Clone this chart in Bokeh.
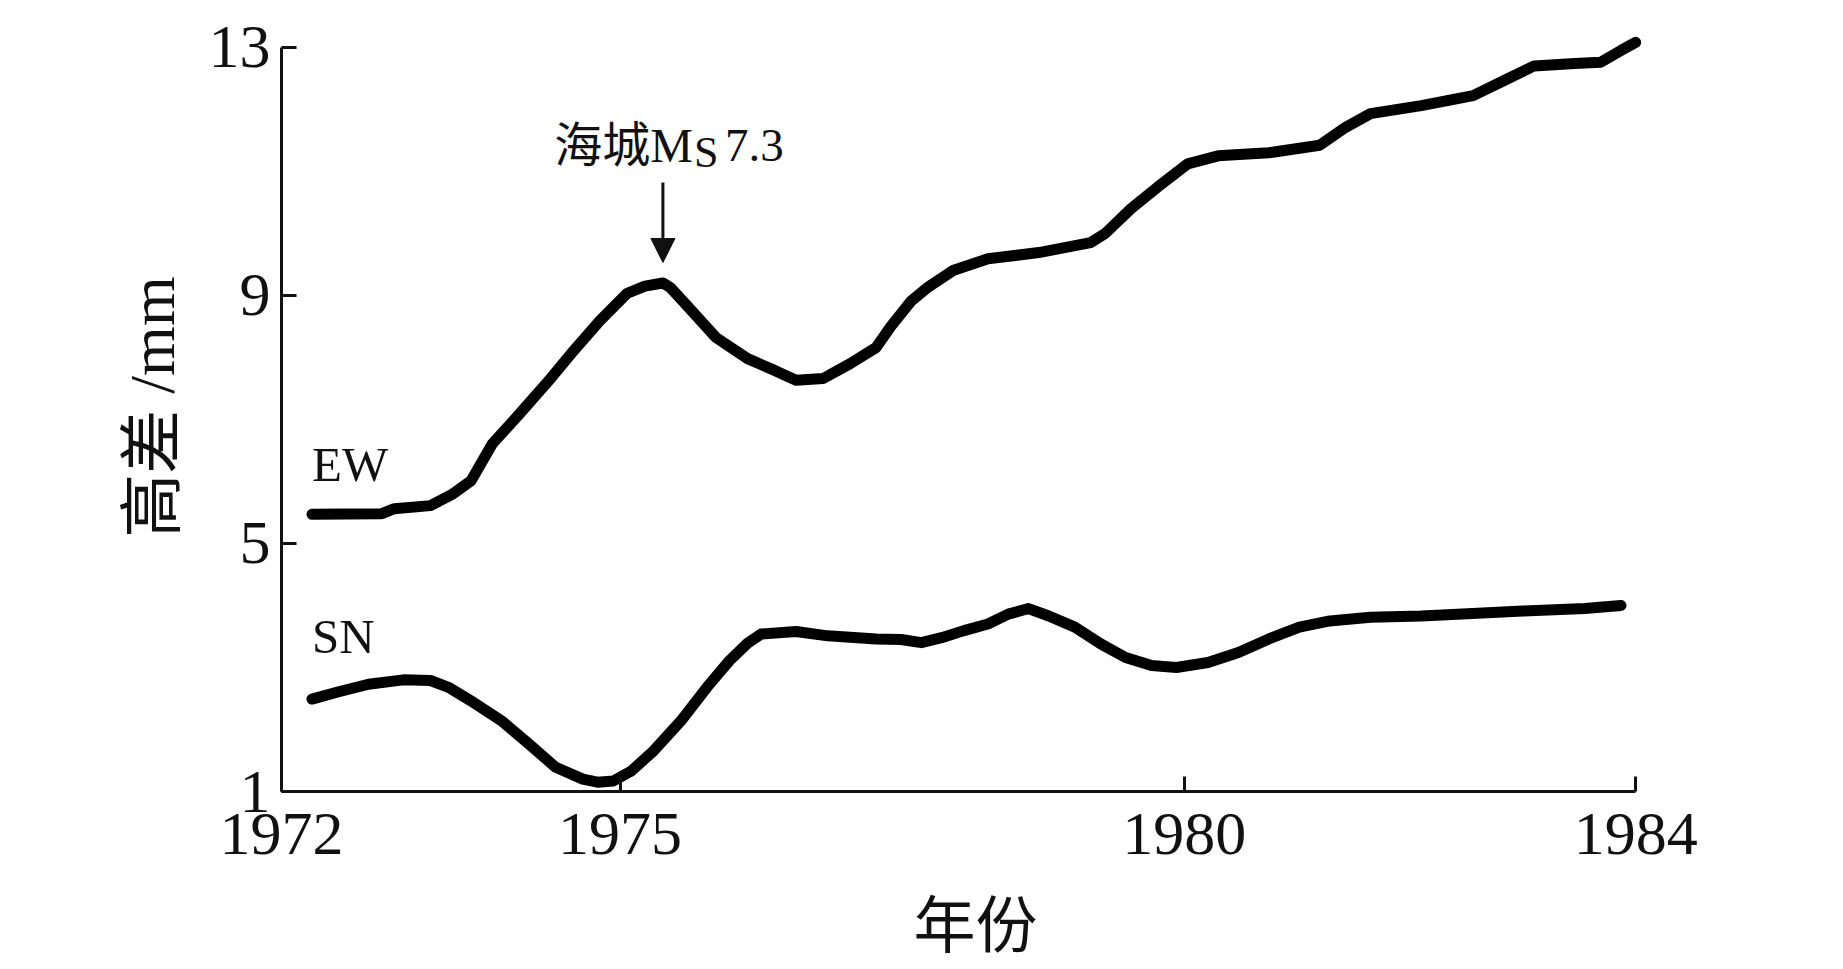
from bokeh.plotting import figure
from bokeh.models import Range1d, FixedTicker, Label, Arrow, NormalHead
from bokeh.embed import file_html
from bokeh.resources import INLINE

# ---- data ----
ew_years = [1972.27, 1972.89, 1973.00, 1973.32, 1973.52, 1973.68, 1973.87, 1974.11,
            1974.39, 1974.59, 1974.82, 1975.06, 1975.22, 1975.38, 1975.45, 1975.58,
            1975.85, 1976.13, 1976.37, 1976.56, 1976.80, 1977.04, 1977.27, 1977.40,
            1977.58, 1977.72, 1977.95, 1978.26, 1978.71, 1979.17, 1979.30, 1979.53,
            1979.76, 1980.03, 1980.30, 1980.75, 1981.20, 1981.43, 1981.65, 1982.10,
            1982.56, 1982.83, 1983.10, 1983.46, 1983.69, 1983.87, 1984.00]
ew_vals = [5.47, 5.48, 5.56, 5.61, 5.80, 6.01, 6.61, 7.09,
           7.67, 8.11, 8.59, 9.03, 9.15, 9.20, 9.12, 8.86,
           8.32, 7.98, 7.79, 7.63, 7.66, 7.90, 8.16, 8.50,
           8.91, 9.12, 9.40, 9.59, 9.69, 9.85, 10.00, 10.40,
           10.74, 11.12, 11.25, 11.30, 11.42, 11.71, 11.93, 12.06,
           12.22, 12.46, 12.70, 12.74, 12.76, 12.95, 13.08]

sn_years = [1972.27, 1972.49, 1972.77, 1973.08, 1973.32, 1973.48, 1973.68, 1973.95,
            1974.19, 1974.43, 1974.67, 1974.80, 1974.94, 1975.10, 1975.30, 1975.54,
            1975.77, 1975.97, 1976.13, 1976.25, 1976.56, 1976.84, 1977.27, 1977.49,
            1977.67, 1977.85, 1978.04, 1978.26, 1978.44, 1978.62, 1978.80, 1979.03,
            1979.26, 1979.48, 1979.71, 1979.93, 1980.21, 1980.48, 1980.75, 1981.02,
            1981.29, 1981.65, 1982.10, 1982.42, 1983.00, 1983.55, 1983.87]
sn_vals = [2.49, 2.60, 2.73, 2.80, 2.79, 2.68, 2.46, 2.14,
           1.77, 1.39, 1.20, 1.15, 1.17, 1.33, 1.66, 2.14,
           2.68, 3.11, 3.39, 3.54, 3.58, 3.51, 3.46, 3.45,
           3.40, 3.48, 3.59, 3.70, 3.86, 3.95, 3.83, 3.65,
           3.38, 3.16, 3.03, 3.00, 3.08, 3.24, 3.46, 3.65,
           3.75, 3.81, 3.83, 3.86, 3.91, 3.95, 4.00]

series_names = ["EW", "SN"]
x_ticks = [1972, 1975, 1980, 1984]
y_ticks = [1, 5, 9, 13]
x_title = "年份"
y_title = "高差 /mm"
quake_text = "海城M"
quake_sub = "S"
quake_mag = "7.3"
quake_arrow_y = [10.82, 9.53]   # arrow start / tip (mm)

SERIF = "'Liberation Serif', 'Noto Sans CJK SC'"
INK = "#111111"

p = figure(frame_width=1388, frame_height=769,
           x_range=Range1d(1972, 1984.3), y_range=Range1d(1, 13.4),
           output_backend="svg", toolbar_location=None,
           min_border_left=281, min_border_top=22, min_border_right=60,
           min_border_bottom=0)
p.outline_line_color = None
p.xgrid.visible = False
p.ygrid.visible = False
p.background_fill_color = "white"
p.border_fill_color = "white"

p.line(ew_years, ew_vals, line_width=11, line_color="black",
       line_join="round", line_cap="round")
p.line(sn_years, sn_vals, line_width=11, line_color="black",
       line_join="round", line_cap="round")

for ax in (p.xaxis[0], p.yaxis[0]):
    ax.axis_line_width = 3
    ax.axis_line_color = INK
    ax.major_tick_in = 15
    ax.major_tick_out = 0
    ax.major_tick_line_width = 3
    ax.major_tick_line_color = INK
    ax.minor_tick_line_color = None
    ax.major_label_text_font = "Liberation Serif"
    ax.major_label_text_font_size = "62px"
    ax.major_label_text_color = INK
    ax.axis_label_text_font = SERIF
    ax.axis_label_text_font_style = "normal"
    ax.axis_label_text_color = INK

p.xaxis.ticker = FixedTicker(ticks=x_ticks)
p.yaxis.ticker = FixedTicker(ticks=y_ticks)
p.xaxis.bounds = (x_ticks[0], x_ticks[-1])
p.yaxis.bounds = (y_ticks[0], y_ticks[-1])
p.xaxis.major_label_standoff = 22
p.yaxis.major_label_standoff = 11
p.xaxis.axis_label = x_title
p.xaxis.axis_label_text_font_size = "62px"
p.xaxis.axis_label_standoff = 36
p.yaxis.axis_label = y_title
p.yaxis.axis_label_text_font_size = "64px"
p.yaxis.axis_label_standoff = 18

# series labels anchored at the first point of each curve
p.add_layout(Label(x=ew_years[0], y=ew_vals[0], y_offset=50, text=series_names[0],
                   text_font="Liberation Serif", text_font_size="49px",
                   text_color=INK, text_baseline="alphabetic", text_align="left"))
p.add_layout(Label(x=sn_years[0], y=sn_vals[0], y_offset=63, text=series_names[1],
                   text_font="Liberation Serif", text_font_size="49px",
                   text_color=INK, text_baseline="alphabetic", text_align="left"))

# earthquake annotation at the EW peak
peak_i = ew_vals.index(max(ew_vals[:20]))
qx = ew_years[peak_i]
p.add_layout(Arrow(x_start=qx, y_start=quake_arrow_y[0], x_end=qx, y_end=quake_arrow_y[1],
                   line_width=3, line_color=INK,
                   end=NormalHead(size=24, fill_color=INK, line_color=INK, line_width=1)))
p.add_layout(Label(x=qx, y=quake_arrow_y[0], x_offset=30, y_offset=37, text=quake_text,
                   text_font=SERIF, text_font_size="48px", text_color=INK,
                   text_baseline="alphabetic", text_align="right"))
p.add_layout(Label(x=qx, y=quake_arrow_y[0], x_offset=31, y_offset=30, text=quake_sub,
                   text_font="Liberation Serif", text_font_size="44px", text_color=INK,
                   text_baseline="alphabetic", text_align="left"))
p.add_layout(Label(x=qx, y=quake_arrow_y[0], x_offset=62, y_offset=37, text=quake_mag,
                   text_font="Liberation Serif", text_font_size="47px", text_color=INK,
                   text_baseline="alphabetic", text_align="left"))

open("out.html", "w").write(file_html(p, INLINE))
